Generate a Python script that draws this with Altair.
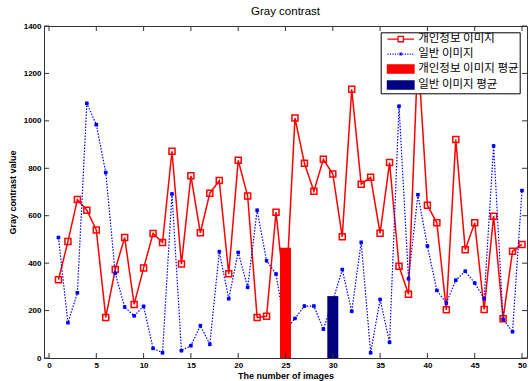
import altair as alt
import pandas as pd

# ---------------- data ----------------
image_no = list(range(1, 51))
personal = [330, 491, 668, 623, 540, 171, 373, 508, 226, 379,
            525, 487, 872, 396, 768, 528, 695, 748, 355, 834,
            683, 171, 176, 615, 230, 1012, 821, 703, 838, 776,
            511, 1133, 733, 762, 526, 824, 387, 269, 1290, 644,
            570, 203, 921, 457, 570, 205, 598, 166, 450, 479]
general = [508, 149, 275, 1074, 984, 782, 357, 215, 178, 218,
           41, 22, 692, 31, 52, 136, 58, 448, 250, 445,
           298, 623, 410, 354, 115, 167, 219, 219, 122, 240,
           373, 197, 488, 22, 247, 66, 1062, 334, 688, 472,
           285, 232, 328, 366, 316, 250, 894, 163, 111, 706]
bar_pos = [25, 30]
bar_val = [465, 261]
series_labels = ["개인정보 이미지", "일반 이미지", "개인정보 이미지 평균", "일반 이미지 평균"]
x_ticks = [0, 5, 10, 15, 20, 25, 30, 35, 40, 45, 50]
y_ticks = [0, 200, 400, 600, 800, 1000, 1200, 1400]

# ---------------- styling ----------------
W, H = 483, 332
RED, BLUE, NAVY = "#ff0000", "#0000ff", "#000080"
FRAME = "#333333"
LATIN = "Liberation Sans"

df_p = pd.DataFrame({"x": image_no, "v": personal})
df_g = pd.DataFrame({"x": image_no, "v": general})
df_b = pd.DataFrame({"x": bar_pos, "v": bar_val, "s": series_labels[2:]})
df_xt = pd.DataFrame({"x": x_ticks})
df_yt = pd.DataFrame({"v": y_ticks})
df_leg = pd.DataFrame({"s": series_labels, "x": [None] * 4, "v": [None] * 4})

xs = alt.Scale(domain=[0, 50], nice=False, zero=False)
ys = alt.Scale(domain=[0, 1400], nice=False, zero=True)
X = alt.X("x:Q", scale=xs,
          axis=alt.Axis(values=x_ticks, title="The number of images", format="d"))
Y = alt.Y("v:Q", scale=ys,
          axis=alt.Axis(values=y_ticks, title="Gray contrast value", format="d"))

red_line = alt.Chart(df_p).mark_line(color=RED, strokeWidth=1.5).encode(x=X, y=Y)
red_pts = alt.Chart(df_p).mark_point(shape="square", size=36, filled=False,
                                     color=RED, strokeWidth=1.5, opacity=1).encode(x=X, y=Y)
blue_line = alt.Chart(df_g).mark_line(color=BLUE, strokeWidth=1.2,
                                      strokeDash=[1.5, 1.5]).encode(x=X, y=Y)
star = "M-1,-1L1,1M-1,1L1,-1M0,-1.2V1.2M-1.2,0H1.2"
blue_pts = alt.Chart(df_g).mark_point(shape=star, size=10, filled=False,
                                      color=BLUE, strokeWidth=1.2, opacity=1).encode(x=X, y=Y)
bars = alt.Chart(df_b).mark_bar(size=11, opacity=1).encode(
    x=X, y=Y,
    color=alt.Color("s:N", scale=alt.Scale(domain=series_labels[2:], range=[RED, NAVY]), legend=None),
)

# inward ticks on all four sides (MATLAB box style)
xt_bot = alt.Chart(df_xt).mark_rule(color=FRAME, strokeWidth=1).encode(
    x=X, y=alt.value(H), y2=alt.value(H - 5))
xt_top = alt.Chart(df_xt).mark_rule(color=FRAME, strokeWidth=1).encode(
    x=X, y=alt.value(0), y2=alt.value(5))
yt_left = alt.Chart(df_yt).mark_rule(color=FRAME, strokeWidth=1).encode(
    y=Y, x=alt.value(0), x2=alt.value(5))
yt_right = alt.Chart(df_yt).mark_rule(color=FRAME, strokeWidth=1).encode(
    y=Y, x=alt.value(W), x2=alt.value(W - 5))

# legend symbols (custom paths; unit = 4.5 px)
dots = "".join(f"M{a:.2f},0H{a + 0.25:.2f}" for a in [i * 0.55 for i in range(11)])
leg_paths = [
    "M0,0H2.35M3.55,0H5.9M2.35,-0.6H3.55V0.6H2.35Z",
    dots + "M2.7,-0.3L3.2,0.3M2.7,0.3L3.2,-0.3",
    "M0,-0.9H5.9V0.9H0Z",
    "M0,-0.9H5.9V0.9H0Z",
]
leg_fill = ["white", "white", RED, NAVY]
leg_stroke = [RED, BLUE, RED, NAVY]
legend_layer = alt.Chart(df_leg).mark_point(filled=True, opacity=1, strokeWidth=1.3).encode(
    x=X, y=Y,
    shape=alt.Shape("s:N", scale=alt.Scale(domain=series_labels, range=leg_paths),
                    legend=alt.Legend(title=None)),
    fill=alt.Fill("s:N", scale=alt.Scale(domain=series_labels, range=leg_fill),
                  legend=alt.Legend(title=None)),
    stroke=alt.Stroke("s:N", scale=alt.Scale(domain=series_labels, range=leg_stroke),
                      legend=alt.Legend(title=None)),
).transform_filter("false")

chart = alt.layer(
    red_line, red_pts, blue_line, blue_pts, bars,
    xt_bot, xt_top, yt_left, yt_right, legend_layer,
).resolve_scale(color="independent").properties(
    width=W, height=H,
    title=alt.TitleParams("Gray contrast", font=LATIN, fontSize=11.5, fontWeight="normal",
                          color="black", offset=5, anchor="middle"),
    autosize=alt.AutoSizeParams(type="none"),
    padding={"left": 44, "top": 26, "right": 2, "bottom": 23},
    background="white",
).configure_view(
    stroke=FRAME, strokeWidth=1,
).configure_axis(
    grid=False, domain=False, ticks=False,
    labelFont=LATIN, labelFontWeight="bold", labelFontSize=8, labelColor="black",
    labelPadding=3,
    titleFont=LATIN, titleFontWeight="bold", titleFontSize=9, titleColor="black",
).configure_axisX(
    titlePadding=2, labelFlush=False,
).configure_axisY(
    titlePadding=6, labelFlush=False,
).configure_legend(
    orient="none", legendX=336.7, legendY=6.3, padding=1,
    strokeColor="black", fillColor="white", cornerRadius=0,
    symbolSize=81, symbolStrokeWidth=1.3,
    labelFont="Noto Sans CJK KR", labelFontSize=11.5, labelColor="black",
    labelOffset=25, rowPadding=2,
)

chart.save("out.html", embed_options={"renderer": "svg", "actions": False})
